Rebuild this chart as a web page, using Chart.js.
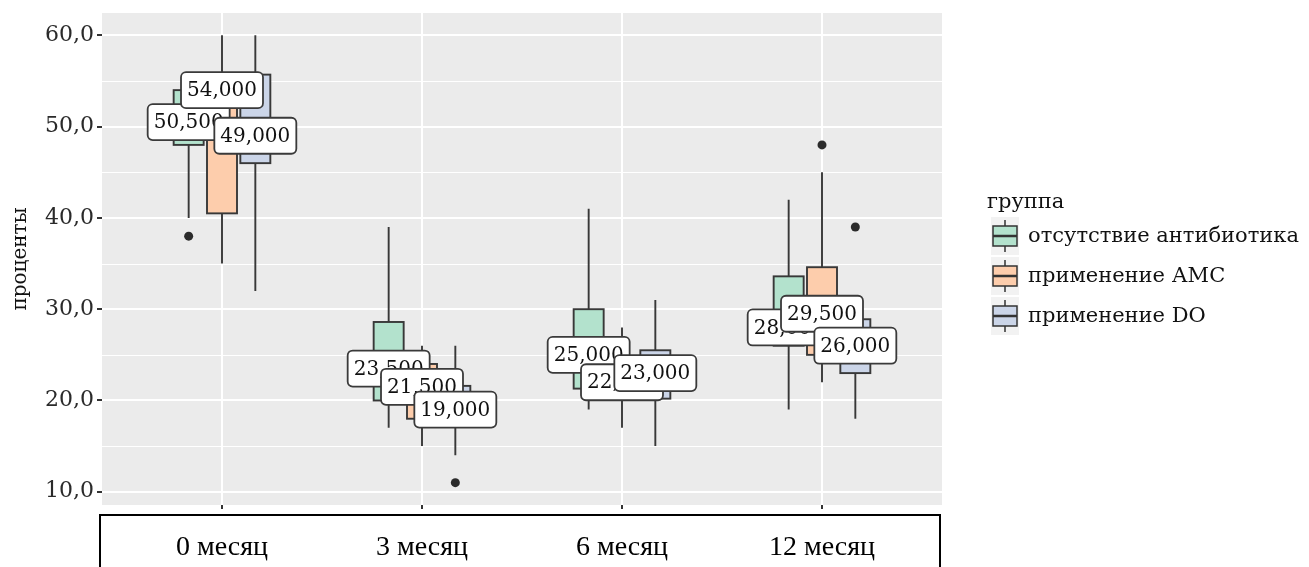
<!DOCTYPE html>
<html>
<head>
<meta charset="utf-8">
<script src="https://cdn.jsdelivr.net/npm/chart.js@4.4.1/dist/chart.umd.min.js"></script>
<style>
  html, body { margin: 0; padding: 0; background: #fff; }
  #wrap { width: 1309px; height: 567px; position: relative; }
</style>
</head>
<body>
<div id="wrap"><canvas id="chart"></canvas></div>
<script>
const categories = ["0 месяц", "3 месяц", "6 месяц", "12 месяц"];
const groups = ["отсутствие антибиотика", "применение АМС", "применение DO"];
const groupColors = ["#B3E2CD", "#FDCDAC", "#CBD5E8"];
const legendTitle = "группа";
const yTitle = "проценты";

// box stats: one row per group, one value per month
const whiskerLow  = [[40, 17, 19, 19], [35, 15, 17, 22], [32, 14, 15, 18]];
const q1          = [[48, 20, 21.3, 26], [40.5, 18, 20.5, 25], [46, 18, 20.2, 23]];
const medians     = [[50.5, 23.5, 25, 28], [54, 21.5, 22, 29.5], [49, 19, 23, 26]];
const q3          = [[54, 28.6, 30, 33.6], [55.5, 24, 23.5, 34.6], [55.7, 21.6, 25.5, 28.9]];
const whiskerHigh = [[55, 39, 41, 42], [60, 26, 28, 45], [60, 26, 31, 28.9]];
const outliers    = [[[38], [], [], []], [[], [], [], [48]], [[], [11], [], [39]]];

const yTicks = [10, 20, 30, 40, 50, 60];

const dodge = [-1 / 6, 0, 1 / 6];
const halfBox = 0.075;
const serif = '"DejaVu Serif", serif';

const fmtMedian = v => v.toFixed(3).replace(".", ",");

const boxPlugin = {
  id: "boxes",
  beforeDraw(chart) {
    const { ctx, chartArea: a, scales: { y } } = chart;
    ctx.save();
    ctx.fillStyle = "#EBEBEB";
    ctx.fillRect(a.left, a.top, a.right - a.left, a.bottom - a.top);
    // minor grid
    ctx.strokeStyle = "#FFFFFF";
    ctx.lineWidth = 1;
    for (let i = 0; i < yTicks.length - 1; i++) {
      const py = Math.round(y.getPixelForValue((yTicks[i] + yTicks[i + 1]) / 2)) + 0.5;
      ctx.beginPath();
      ctx.moveTo(a.left, py);
      ctx.lineTo(a.right, py);
      ctx.stroke();
    }
    // frame around x labels
    ctx.strokeStyle = "#000";
    ctx.lineWidth = 2;
    ctx.strokeRect(a.left - 2, a.bottom + 10, a.right - a.left, 80);
    ctx.restore();
  },
  beforeDatasetsDraw(chart) {
    const { ctx, scales: { x, y } } = chart;
    ctx.save();
    ctx.strokeStyle = "#383838";
    groups.forEach((g, gi) => {
      categories.forEach((c, ci) => {
        const xc = x.getPixelForValue(ci + dodge[gi]);
        const x0 = x.getPixelForValue(ci + dodge[gi] - halfBox);
        const x1 = x.getPixelForValue(ci + dodge[gi] + halfBox);
        const yLo = y.getPixelForValue(whiskerLow[gi][ci]);
        const yQ1 = y.getPixelForValue(q1[gi][ci]);
        const yMed = y.getPixelForValue(medians[gi][ci]);
        const yQ3 = y.getPixelForValue(q3[gi][ci]);
        const yHi = y.getPixelForValue(whiskerHigh[gi][ci]);
        ctx.lineWidth = 1.9;
        ctx.beginPath();
        ctx.moveTo(xc, yHi); ctx.lineTo(xc, yQ3);
        ctx.moveTo(xc, yQ1); ctx.lineTo(xc, yLo);
        ctx.stroke();
        ctx.fillStyle = groupColors[gi];
        ctx.fillRect(x0, yQ3, x1 - x0, yQ1 - yQ3);
        ctx.strokeRect(x0, yQ3, x1 - x0, yQ1 - yQ3);
        ctx.lineWidth = 3.5;
        ctx.beginPath();
        ctx.moveTo(x0, yMed); ctx.lineTo(x1, yMed);
        ctx.stroke();
      });
    });
    ctx.restore();
  },
  afterDatasetsDraw(chart) {
    const { ctx, scales: { x, y } } = chart;
    ctx.save();
    ctx.font = "20px " + serif;
    ctx.textAlign = "center";
    ctx.textBaseline = "middle";
    categories.forEach((c, ci) => {
      groups.forEach((g, gi) => {
        const txt = fmtMedian(medians[gi][ci]);
        const xc = x.getPixelForValue(ci + dodge[gi]);
        const yc = y.getPixelForValue(medians[gi][ci]);
        const w = ctx.measureText(txt).width + 12;
        const h = 36;
        ctx.beginPath();
        ctx.roundRect(xc - w / 2, yc - h / 2, w, h, 5);
        ctx.fillStyle = "#fff";
        ctx.fill();
        ctx.lineWidth = 1.8;
        ctx.strokeStyle = "#3a3a3a";
        ctx.stroke();
        ctx.fillStyle = "#111";
        ctx.fillText(txt, xc, yc + 1);
      });
    });
    ctx.restore();
  },
  afterDraw(chart) {
    const { ctx } = chart;
    ctx.save();
    ctx.font = "21px " + serif;
    ctx.fillStyle = "#111";
    ctx.textBaseline = "middle";
    ctx.fillText(legendTitle, 987, 203);
    groups.forEach((g, gi) => {
      const cy = 236 + gi * 40;
      ctx.fillStyle = "#F2F2F2";
      ctx.fillRect(991, cy - 19, 28, 38);
      ctx.strokeStyle = "#333";
      ctx.lineWidth = 1.5;
      ctx.beginPath();
      ctx.moveTo(1005, cy - 16); ctx.lineTo(1005, cy - 10);
      ctx.moveTo(1005, cy + 10); ctx.lineTo(1005, cy + 16);
      ctx.stroke();
      ctx.fillStyle = groupColors[gi];
      ctx.fillRect(993, cy - 10, 24, 20);
      ctx.strokeRect(993, cy - 10, 24, 20);
      ctx.lineWidth = 2.5;
      ctx.beginPath();
      ctx.moveTo(993, cy); ctx.lineTo(1017, cy);
      ctx.stroke();
      ctx.fillStyle = "#111";
      ctx.fillText(g, 1028, cy + 1);
    });
    ctx.restore();
  }
};

const ctx = document.getElementById("chart");

new Chart(ctx, {
  type: "scatter",
  data: {
    datasets: groups.map((g, gi) => ({
      label: g,
      data: outliers[gi].flatMap((vals, ci) => vals.map(v => ({ x: ci + dodge[gi], y: v }))),
      pointRadius: 4.5,
      pointHoverRadius: 4.5,
      backgroundColor: "#2b2b2b",
      borderWidth: 0
    }))
  },
  options: {
    responsive: true,
    maintainAspectRatio: false,
    animation: false,
    layout: { padding: { top: 13, right: 367, left: 0, bottom: 0 } },
    plugins: {
      legend: { display: false },
      tooltip: { enabled: false }
    },
    scales: {
      x: {
        type: "linear",
        min: -0.6,
        max: 3.6,
        afterBuildTicks: s => { s.ticks = categories.map((c, i) => ({ value: i })); },
        afterFit: s => { s.height = 62; s.paddingLeft = 0; s.paddingRight = 0; },
        ticks: {
          callback: v => categories[v],
          autoSkip: false,
          maxRotation: 0,
          padding: 22,
          color: "#000",
          font: { family: '"Liberation Serif", serif', size: 28 }
        },
        grid: { color: "#fff", lineWidth: 2, tickColor: "#333", tickLength: 4 },
        border: { display: false }
      },
      y: {
        min: 8.55,
        max: 62.45,
        afterBuildTicks: s => { s.ticks = yTicks.map(v => ({ value: v })); },
        afterFit: s => { s.width = 102; s.paddingTop = 0; s.paddingBottom = 0; },
        ticks: {
          callback: v => v.toFixed(1).replace(".", ","),
          padding: 3,
          color: "#2a2a2a",
          font: { family: serif, size: 22 }
        },
        grid: { color: "#fff", lineWidth: 2, tickColor: "#333", tickLength: 5 },
        border: { display: false },
        title: {
          display: true,
          text: yTitle,
          color: "#111",
          padding: { top: 9, bottom: 0 },
          font: { family: serif, size: 20 }
        }
      }
    }
  },
  plugins: [boxPlugin]
});
</script>
</body>
</html>
